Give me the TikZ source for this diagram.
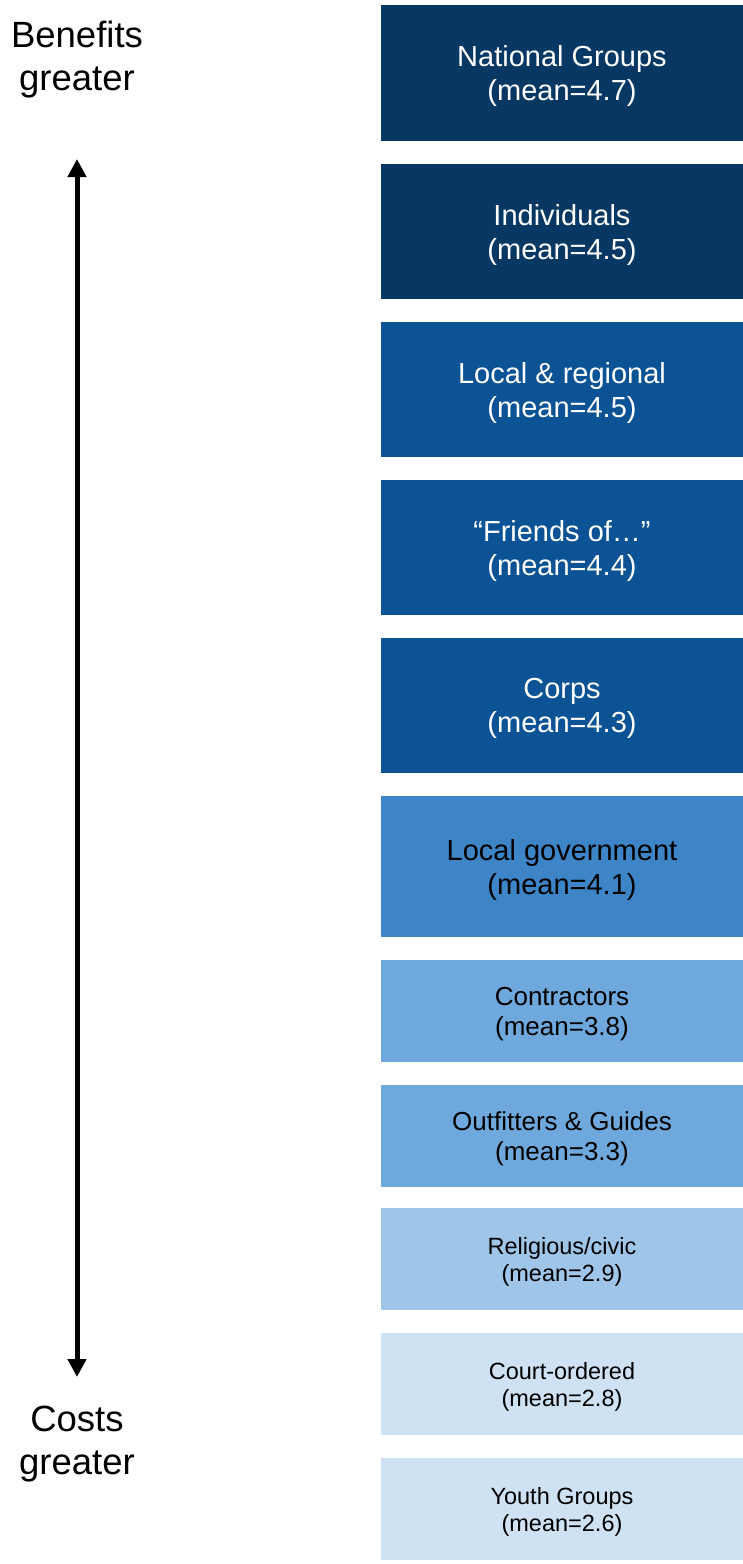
\documentclass[tikz,border=0pt]{standalone}
\usepackage{fontspec}
\setmainfont{Liberation Sans}
\usetikzlibrary{arrows.meta}
\definecolor{cA}{HTML}{073763}
\definecolor{cB}{HTML}{0B5394}
\definecolor{cC}{HTML}{3D85C6}
\definecolor{cD}{HTML}{6FA8DC}
\definecolor{cE}{HTML}{9FC5E8}
\definecolor{cF}{HTML}{CFE2F3}
\tikzset{
  box/.style={rectangle, inner sep=0pt, minimum width=362pt, align=center, text depth=0pt},
  bigtxt/.style={font=\fontsize{29}{34}\selectfont},
  midtxt/.style={font=\fontsize{26}{30}\selectfont},
  smalltxt/.style={font=\fontsize{23.5}{27}\selectfont},
  sidetxt/.style={align=center, inner sep=0pt, text depth=0pt, font=\fontsize{36.5}{42.5}\selectfont},
}
\begin{document}
\begin{tikzpicture}[x=1pt,y=-1pt]
\useasboundingbox (0,0) rectangle (743,1564);
\node[box,bigtxt,fill=cA,text=white,minimum height=136pt] (b1) at (562,73) {National Groups\\(mean=4.7)};
\node[box,bigtxt,fill=cA,text=white,minimum height=135pt] (b2) at (562,231.5) {Individuals\\(mean=4.5)};
\node[box,bigtxt,fill=cB,text=white,minimum height=135pt] (b3) at (562,389.5) {Local \& regional\\(mean=4.5)};
\node[box,bigtxt,fill=cB,text=white,minimum height=135pt] (b4) at (562,547.5) {“Friends of…”\\(mean=4.4)};
\node[box,bigtxt,fill=cB,text=white,minimum height=135pt] (b5) at (562,705.5) {Corps\\(mean=4.3)};
\node[box,bigtxt,fill=cC,text=black,minimum height=141pt] (b6) at (562,866.5) {Local government\\(mean=4.1)};
\node[box,midtxt,fill=cD,text=black,minimum height=102pt] (b7) at (562,1011) {Contractors\\(mean=3.8)};
\node[box,midtxt,fill=cD,text=black,minimum height=102pt] (b8) at (562,1136) {Outfitters \& Guides\\(mean=3.3)};
\node[box,smalltxt,fill=cE,text=black,minimum height=102pt] (b9) at (562,1259) {Religious/civic\\(mean=2.9)};
\node[box,smalltxt,fill=cF,text=black,minimum height=102pt] (b10) at (562,1384) {Court-ordered\\(mean=2.8)};
\node[box,smalltxt,fill=cF,text=black,minimum height=102pt] (b11) at (562,1509) {Youth Groups\\(mean=2.6)};
\node[sidetxt] (ben) at (77,56) {Benefits\\greater};
\node[sidetxt] (cost) at (77,1440) {Costs\\greater};
\coordinate (atop) at (77,159);
\coordinate (abot) at (77,1377);
\draw[line width=5pt, {Triangle[width=18pt,length=18pt]}-{Triangle[width=18pt,length=18pt]}] (atop) -- (abot);
\end{tikzpicture}
\end{document}
